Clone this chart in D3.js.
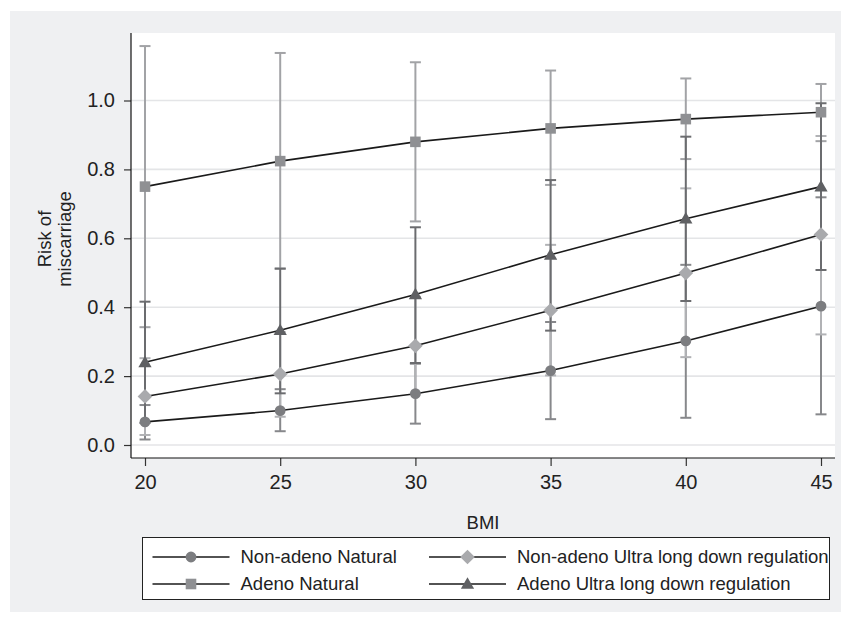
<!DOCTYPE html>
<html>
<head>
<meta charset="utf-8">
<script src="https://cdn.jsdelivr.net/npm/d3@7"></script>
<style>
	body { margin: 0; background: #fff; }
	text { font-family: "Liberation Sans", Arial, Helvetica, sans-serif; fill: #222; }
</style>
</head>
<body>
<div id="chart"></div>
<script>
(function () {
	'use strict';

	// BMI values on the x axis
	var bmi = [20, 25, 30, 35, 40, 45];
	var xTicks = [20, 25, 30, 35, 40, 45];
	var yTicks = [0, 0.2, 0.4, 0.6, 0.8, 1.0];

	// predicted risk and 95% CI per group
	var nonAdenoNatural = [0.067, 0.100, 0.149, 0.216, 0.302, 0.403];
	var nonAdenoNaturalLo = [0.016, 0.040, 0.062, 0.075, 0.079, 0.089];
	var nonAdenoNaturalHi = [0.116, 0.162, 0.236, 0.357, 0.523, 0.719];

	var nonAdenoUltra = [0.141, 0.206, 0.288, 0.391, 0.499, 0.611];
	var nonAdenoUltraLo = [0.029, 0.082, 0.150, 0.202, 0.255, 0.321];
	var nonAdenoUltraHi = [0.252, 0.328, 0.430, 0.581, 0.745, 0.897];

	var adenoNatural = [0.750, 0.824, 0.880, 0.919, 0.946, 0.966];
	var adenoNaturalLo = [0.342, 0.512, 0.649, 0.755, 0.830, 0.882];
	var adenoNaturalHi = [1.158, 1.138, 1.111, 1.087, 1.064, 1.048];

	var adenoUltra = [0.240, 0.333, 0.437, 0.552, 0.657, 0.750];
	var adenoUltraLo = [0.064, 0.150, 0.238, 0.332, 0.418, 0.508];
	var adenoUltraHi = [0.416, 0.512, 0.632, 0.769, 0.895, 0.992];

	// diamond = square turned 45 degrees, like the Stata marker
	var series = [
		{ name: 'Non-adeno Natural', y: nonAdenoNatural, lo: nonAdenoNaturalLo, hi: nonAdenoNaturalHi,
			symbol: d3.symbolCircle, size: 92, rot: 0, dy: 0, fill: '#7c7d80', bar: '#87888b' },
		{ name: 'Non-adeno Ultra long down regulation', y: nonAdenoUltra, lo: nonAdenoUltraLo, hi: nonAdenoUltraHi,
			symbol: d3.symbolSquare, size: 108, rot: 45, dy: 0, fill: '#a9aaad', bar: '#b1b2b5' },
		{ name: 'Adeno Natural', y: adenoNatural, lo: adenoNaturalLo, hi: adenoNaturalHi,
			symbol: d3.symbolSquare, size: 112, rot: 0, dy: 0, fill: '#8f9093', bar: '#a2a3a6' },
		{ name: 'Adeno Ultra long down regulation', y: adenoUltra, lo: adenoUltraLo, hi: adenoUltraHi,
			symbol: d3.symbolTriangle, size: 76, rot: 0, dy: 1, fill: '#5f6063', bar: '#6b6c6f' }
	];

	var width = 841;
	var height = 621;
	var plot = { left: 131, right: 835, top: 33, bottom: 458 };

	var x = d3.scaleLinear().domain([20, 45]).range([145, 821]);
	var y = d3.scaleLinear().domain([0, 1]).range([445, 100.5]);

	var svg = d3.select('#chart').append('svg')
		.attr('width', width)
		.attr('height', height);

	// outer grey panel and white plot region
	svg.append('rect').attr('x', 10).attr('y', 11)
		.attr('width', width - 10).attr('height', 601)
		.attr('fill', '#eff0f2');
	svg.append('rect').attr('x', plot.left).attr('y', plot.top)
		.attr('width', plot.right - plot.left).attr('height', plot.bottom - plot.top)
		.attr('fill', '#fff');

	// gridlines
	svg.append('g').selectAll('line').data(yTicks)
		.enter().append('line')
		.attr('x1', plot.left).attr('x2', plot.right)
		.attr('y1', function (d) { return y(d); })
		.attr('y2', function (d) { return y(d); })
		.attr('stroke', '#e4e5e7')
		.attr('stroke-width', 1.6);

	// axes
	var yAxis = d3.axisLeft(y).tickValues(yTicks).tickFormat(d3.format('.1f'))
		.tickSize(7).tickPadding(9);
	var xAxis = d3.axisBottom(x).tickValues(xTicks).tickFormat(d3.format('d'))
		.tickSize(8).tickPadding(9);

	var gy = svg.append('g').attr('transform', 'translate(' + plot.left + ',0)').call(yAxis);
	var gx = svg.append('g').attr('transform', 'translate(0,' + plot.bottom + ')').call(xAxis);
	[gy, gx].forEach(function (g) {
		g.select('.domain').remove();
		g.selectAll('.tick line').attr('stroke', '#333').attr('stroke-width', 1.2);
		g.selectAll('.tick text').attr('font-size', 20).attr('fill', '#222')
			.attr('font-family', '"Liberation Sans", Arial, sans-serif');
	});
	svg.append('line').attr('x1', plot.left).attr('x2', plot.left)
		.attr('y1', plot.top).attr('y2', plot.bottom)
		.attr('stroke', '#111').attr('stroke-width', 1.2);
	svg.append('line').attr('x1', plot.left).attr('x2', plot.right)
		.attr('y1', plot.bottom).attr('y2', plot.bottom)
		.attr('stroke', '#111').attr('stroke-width', 1.2);

	// axis titles
	var yt = svg.append('text')
		.attr('transform', 'translate(0,239) rotate(-90)')
		.attr('text-anchor', 'middle')
		.attr('font-size', 18.5);
	yt.append('tspan').attr('x', 0).attr('y', 51).text('Risk of');
	yt.append('tspan').attr('x', 0).attr('y', 71).text('miscarriage');

	svg.append('text')
		.attr('x', 483).attr('y', 529)
		.attr('text-anchor', 'middle')
		.attr('font-size', 18.5)
		.text('BMI');

	// error bars
	var capW = 5.5;
	var bars = svg.append('g');
	series.forEach(function (s) {
		var g = bars.append('g').attr('stroke', s.bar).attr('stroke-width', 2);
		bmi.forEach(function (b, i) {
			g.append('line').attr('x1', x(b)).attr('x2', x(b))
				.attr('y1', y(s.lo[i])).attr('y2', y(s.hi[i]));
			[s.lo[i], s.hi[i]].forEach(function (v) {
				g.append('line').attr('x1', x(b) - capW).attr('x2', x(b) + capW)
					.attr('y1', y(v)).attr('y2', y(v));
			});
		});
	});

	// fitted lines
	var line = d3.line()
		.x(function (d) { return x(d[0]); })
		.y(function (d) { return y(d[1]); });
	series.forEach(function (s) {
		svg.append('path')
			.attr('d', line(d3.zip(bmi, s.y)))
			.attr('fill', 'none')
			.attr('stroke', '#1a1a1a')
			.attr('stroke-width', 1.6);
	});

	// markers
	series.forEach(function (s) {
		var sym = d3.symbol().type(s.symbol).size(s.size);
		svg.append('g').selectAll('path').data(bmi)
			.enter().append('path')
			.attr('d', sym)
			.attr('transform', function (d, i) {
				return 'translate(' + x(d) + ',' + (y(s.y[i]) + s.dy) + ') rotate(' + s.rot + ')';
			})
			.attr('fill', s.fill);
	});

	// legend
	var legend = svg.append('g');
	legend.append('rect')
		.attr('x', 142.5).attr('y', 537.5)
		.attr('width', 687).attr('height', 62)
		.attr('fill', '#fff').attr('stroke', '#222').attr('stroke-width', 1);

	var cols = [152.5, 429];
	var rows = [557, 584];
	series.forEach(function (s, i) {
		var cx = cols[i % 2];
		var cy = rows[Math.floor(i / 2)];
		var item = legend.append('g').attr('transform', 'translate(' + cx + ',' + cy + ')');
		item.append('line').attr('x1', 0).attr('x2', 77)
			.attr('y1', 0).attr('y2', 0)
			.attr('stroke', '#1a1a1a').attr('stroke-width', 1.6);
		item.append('path')
			.attr('d', d3.symbol().type(s.symbol).size(s.size)())
			.attr('transform', 'translate(38.5,' + s.dy + ') rotate(' + s.rot + ')')
			.attr('fill', s.fill);
		item.append('text')
			.attr('x', 88).attr('y', 0)
			.attr('dy', '0.35em')
			.attr('font-size', 18.5)
			.text(s.name);
	});
})();
</script>
</body>
</html>
